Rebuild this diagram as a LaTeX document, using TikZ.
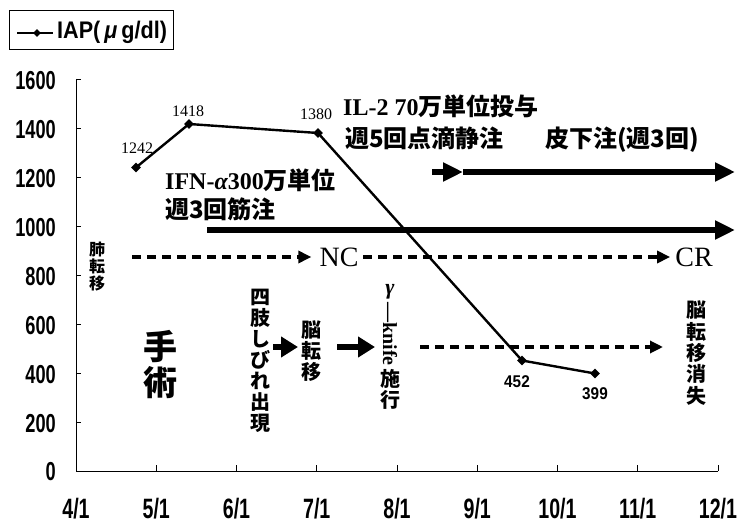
\documentclass[tikz,border=0pt]{standalone}
\usepackage{fontspec}
\usetikzlibrary{arrows.meta,shapes.geometric}
\setmainfont{Liberation Serif}
\newfontfamily\axfont[FakeStretch=0.7]{Liberation Sans}
\newfontfamily\legfont[FakeStretch=0.9]{Liberation Sans}
\newfontfamily\cjk{Noto Sans CJK JP}
\newcommand{\myfs}[2]{\fontsize{#1}{#2}\selectfont}
\begin{document}
\begin{tikzpicture}[x=1pt,y=-1pt,
  dot/.style={diamond,fill=black,inner sep=0pt,minimum size=10pt},
  dataline/.style={line width=2.4pt,line join=round},
  axisline/.style={line width=1pt},
  bigarrow/.style={line width=5.5pt,-{Triangle[length=20pt,width=18pt]}},
  shortarrow/.style={line width=6.5pt,-{Triangle[length=17pt,width=20pt]}},
  dasharrow/.style={line width=3.2pt,dash pattern=on 9pt off 6pt,-{Triangle[length=13pt,width=12pt]}},
  ylab/.style={anchor=east,inner sep=0pt,font=\axfont\bfseries\myfs{26}{26}},
  xlab/.style={inner sep=0pt,font=\axfont\bfseries\myfs{28}{28}},
  vallab/.style={inner sep=0pt,font=\myfs{16}{16}},
  vallabb/.style={inner sep=0pt,font=\legfont\bfseries\myfs{17}{17}},
  jtext/.style={anchor=west,inner sep=0pt,font=\bfseries\myfs{24}{24}},
  vtext/.style={inner sep=0pt,align=center,font=\cjk\bfseries\myfs{20}{21}},
  status/.style={inner sep=0pt,font=\myfs{28}{28}}]
\useasboundingbox (0,0) rectangle (740,524);
\fill[white] (0,0) rectangle (740,524);

% legend
\node[draw,line width=1.1pt,minimum width=164pt,minimum height=39pt,anchor=north west,inner sep=0pt] (legend) at (9,10) {};
\coordinate (lgA) at (17,33);
\coordinate (lgB) at (53,33);
\node[dot,minimum size=8pt] (lgdot) at (37,33) {};
\draw[line width=2pt] (lgA) -- (lgdot.center) -- (lgB);
\node[anchor=west,inner sep=0pt,font=\legfont\bfseries\myfs{24}{24}] (legtext) at (57,32) {IAP(\,{\itshape μ}\,g/dl)};

% axes
\coordinate (O) at (76,471);
\coordinate (Ytop) at (76,79);
\coordinate (Xend) at (718,471);
\draw[axisline] (Ytop) -- (O) -- (Xend);
\foreach \v in {0,200,...,1600} {
  \draw[axisline] (76,{471-0.2444*\v}) -- ++(5,0);
  \node[ylab] (yl\v) at (56,{472-0.2444*\v}) {\v};
}
\foreach \m in {0,...,8} {
  \draw[axisline] ({76+80.25*\m},471) -- ++(0,-6);
  \node[xlab] (xl\m) at ({76+80.25*\m},509) {\number\numexpr\m+4\relax/1};
}

% data
\node[dot] (p1) at (136,167.5) {};
\node[dot] (p2) at (189,124) {};
\node[dot] (p3) at (318,133) {};
\node[dot] (p4) at (522,360.5) {};
\node[dot] (p5) at (595,373.5) {};
\draw[dataline] (p1.center) -- (p2.center) -- (p3.center) -- (p4.center) -- (p5.center);
\node[vallab] (v1) at (137,148) {1242};
\node[vallab] (v2) at (188,111) {1418};
\node[vallab] (v3) at (316,114) {1380};
\node[vallabb] (v4) at (517,382) {452};
\node[vallabb] (v5) at (595,394) {399};

% treatment texts
\node[jtext] (il2a) at (343,106) {IL-2 70{\cjk 万単位投与}};
\node[jtext] (il2b) at (345,138) {{\cjk 週5回点滴静注}};
\node[jtext] (sc) at (545,140) {{\cjk 皮下注(週3回)}};
\node[jtext] (ifna) at (165,180) {IFN-{\itshape α}300{\cjk 万単位}};
\node[jtext] (ifnb) at (165,209) {{\cjk 週3回筋注}};

% thick arrows
\coordinate (ilS) at (432,172);
\coordinate (ilM) at (463,172);
\coordinate (ilE) at (735,172);
\draw[bigarrow] (ilS) -- (ilM);
\draw[bigarrow] (ilM) -- (ilE);
\coordinate (ifS) at (207,230);
\coordinate (ifE) at (735,230);
\draw[bigarrow] (ifS) -- (ifE);

% status
\node[status] (NC) at (339,257) {NC};
\node[status] (CR) at (694,257) {CR};
\coordinate (d1S) at (132,257);
\coordinate (d2S) at (363,257);
\draw[dasharrow] (d1S) -- ([xshift=-8pt]NC.west);
\draw[dasharrow] (d2S) -- ([xshift=-5pt]CR.west);

% vertical labels
\node[vtext,font=\cjk\bfseries\myfs{16}{17}] (lung) at (97,267) {肺\\転\\移};
\node[vtext,font=\cjk\bfseries\myfs{34}{36}] (surg) at (160,365) {手\\術};
\node[vtext] (numb) at (260,361) {四\\肢\\し\\び\\れ\\出\\現};
\node[vtext] (brain) at (311,351) {脳\\転\\移};
\node[inner sep=0pt,font=\bfseries\itshape\myfs{22}{22}] (gam) at (390,292) {γ};
\node[inner sep=0pt,rotate=-90,font=\bfseries\myfs{20}{20}] (knife) at (390,334) {—knife};
\node[vtext] (shiko) at (390,389) {施\\行};
\node[vtext,font=\cjk\bfseries\myfs{20}{21.4}] (gone) at (696,353) {脳\\転\\移\\消\\失};

% event arrows
\coordinate (a1S) at (273,347);
\coordinate (a1E) at (298,347);
\coordinate (a2S) at (337,347);
\coordinate (a2E) at (375,347);
\draw[shortarrow] (a1S) -- (a1E);
\draw[shortarrow] (a2S) -- (a2E);
\coordinate (d3S) at (420,347);
\coordinate (d3E) at (663,347);
\draw[dasharrow] (d3S) -- (d3E);
\end{tikzpicture}
\end{document}
